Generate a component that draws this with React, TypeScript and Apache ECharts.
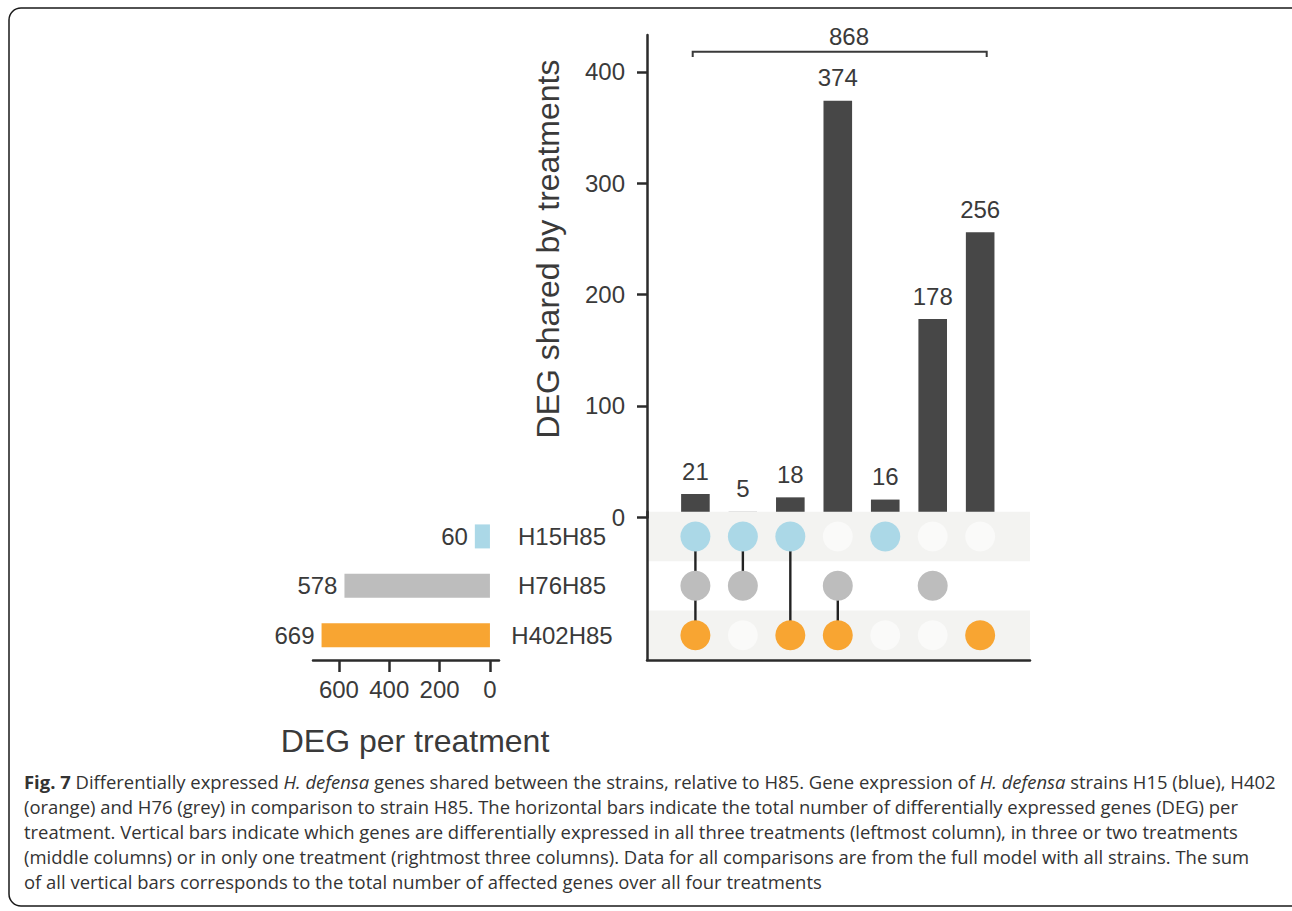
import React, { useEffect, useRef } from "react";
import * as echarts from "echarts";

// ---- data ----
const treatments = ["H15H85", "H76H85", "H402H85"];
const treatmentTotals = [60, 578, 669];
const treatmentColors = ["#abd8e7", "#bdbdbd", "#f8a532"];
// membership of each intersection column (indices into treatments)
const columnSets = [[0, 1, 2], [0, 1], [0, 2], [1, 2], [0], [1], [2]];
const columnCounts = [21, 5, 18, 374, 16, 178, 256];
const sharedTicks = [0, 100, 200, 300, 400];
const perTreatmentTicks = [0, 200, 400, 600];
const totalLabel = "868";
const yTitle = "DEG shared by treatments";
const xTitle = "DEG per treatment";
const captionLines = [
  "{b|Fig. 7} Differentially expressed {i|H. defensa} genes shared between the strains, relative to H85. Gene expression of {i|H. defensa} strains H15 (blue), H402",
  "(orange) and H76 (grey) in comparison to strain H85. The horizontal bars indicate the total number of differentially expressed genes (DEG) per",
  "treatment. Vertical bars indicate which genes are differentially expressed in all three treatments (leftmost column), in three or two treatments",
  "(middle columns) or in only one treatment (rightmost three columns). Data for all comparisons are from the full model with all strains. The sum",
  "of all vertical bars corresponds to the total number of affected genes over all four treatments",
];

const FONT = "'Liberation Sans', Arial, sans-serif";
const CAP_FONT = "'Open Sans', 'Noto Sans', sans-serif";
const CAP_SIZE = 18.45;
const TXT = "#3a3a3a";
const AX = "#2b2b2b";

export default function App() {
  const ref = useRef<HTMLDivElement>(null);
  useEffect(() => {
    const chart = echarts.init(ref.current!, null, { renderer: "svg" });

    const filled: any[] = [];
    const empty: any[] = [];
    columnSets.forEach((set, c) => {
      treatments.forEach((_, r) => {
        if (set.includes(r)) {
          filled.push({ value: [c, r], itemStyle: { color: treatmentColors[r] } });
        } else {
          empty.push([c, r]);
        }
      });
    });
    const connectors = columnSets
      .map((set, c) => [c, Math.min(...set), Math.max(...set)])
      .filter((d, i) => columnSets[i].length > 1);

    const matrixTop = 511.7;
    const matrixH = 148.3;
    const rowH = matrixH / 3;
    const bandRects = [0, 2].map((r) => ({
      type: "rect",
      z: 3,
      silent: true,
      shape: { x: 647, y: matrixTop + r * rowH, width: 383, height: rowH },
      style: { fill: "#f3f3f1" },
    }));

    const captionRich = {
      b: { fontWeight: "bold", fontFamily: CAP_FONT, fontSize: CAP_SIZE, fill: "#333" },
      i: { fontStyle: "italic", fontFamily: CAP_FONT, fontSize: CAP_SIZE, fill: "#333" },
    };

    chart.setOption({
      animation: false,
      backgroundColor: "#ffffff",
      grid: [
        { left: 647, top: 35, width: 383, height: 482.4 },
        { left: 647, top: matrixTop, width: 383, height: matrixH },
        { left: 313, top: matrixTop, width: 186, height: matrixH },
      ],
      xAxis: [
        { gridIndex: 0, type: "value", min: -1.02, max: 7.05, show: false },
        {
          gridIndex: 1, type: "value", min: -1.02, max: 7.05, z: 8,
          axisLine: { show: true, onZero: false, lineStyle: { color: AX, width: 2.5 } },
          axisTick: { show: false }, axisLabel: { show: false }, splitLine: { show: false },
        },
        {
          gridIndex: 2, type: "value", min: -36, max: 703, inverse: true,
          axisLine: { show: true, onZero: false, lineStyle: { color: AX, width: 2.5 } },
          axisTick: { show: true, length: 12, customValues: perTreatmentTicks, lineStyle: { color: AX, width: 2.5 } },
          axisLabel: { customValues: perTreatmentTicks, fontSize: 24, fontFamily: FONT, color: TXT, margin: 17 },
          splitLine: { show: false },
        },
      ],
      yAxis: [
        {
          gridIndex: 0, type: "value", min: 0, max: 433, z: 8,
          axisLine: { show: true, onZero: false, lineStyle: { color: AX, width: 2.5 } },
          axisTick: { show: true, length: 10, customValues: sharedTicks, lineStyle: { color: AX, width: 2.5 } },
          axisLabel: { customValues: sharedTicks, fontSize: 24, fontFamily: FONT, color: TXT, margin: 22 },
          splitLine: { show: false },
        },
        {
          gridIndex: 1, type: "category", data: treatments, inverse: true, z: 8,
          axisLine: { show: true, onZero: false, lineStyle: { color: AX, width: 2.5 } },
          axisTick: { show: false }, axisLabel: { show: false }, splitLine: { show: false },
        },
        {
          gridIndex: 2, type: "category", data: treatments, inverse: true, position: "right",
          axisLine: { show: false, onZero: false }, axisTick: { show: false },
          axisLabel: { fontSize: 24, fontFamily: FONT, color: TXT, align: "center", margin: 63 },
        },
      ],
      series: [
        {
          type: "bar", xAxisIndex: 0, yAxisIndex: 0, z: 2,
          data: columnCounts.map((v, i) => [i, v]),
          barWidth: 28.6,
          itemStyle: { color: "#474747" },
          label: {
            show: true, position: "top", distance: 11, fontSize: 24, fontFamily: FONT, color: TXT,
            formatter: (p: any) => String(p.value[1]),
          },
        },
        {
          type: "bar", xAxisIndex: 2, yAxisIndex: 2,
          data: treatmentTotals.map((v, i) => ({ value: v, itemStyle: { color: treatmentColors[i] } })),
          barWidth: 24,
          label: { show: true, position: "left", distance: 7, fontSize: 24, fontFamily: FONT, color: TXT },
        },
        {
          type: "scatter", xAxisIndex: 1, yAxisIndex: 1, z: 4,
          data: empty, symbolSize: 30,
          itemStyle: { color: "rgba(255,255,255,0.55)", opacity: 1 },
        },
        {
          type: "custom", xAxisIndex: 1, yAxisIndex: 1, z: 5,
          data: connectors,
          encode: { x: 0, y: [1, 2] },
          renderItem: (params: any, api: any) => {
            const x = api.value(0);
            const a = api.coord([x, api.value(1)]);
            const b = api.coord([x, api.value(2)]);
            return {
              type: "line",
              shape: { x1: a[0], y1: a[1], x2: b[0], y2: b[1] },
              style: { stroke: "#222222", lineWidth: 2.4 },
            };
          },
        },
        {
          type: "scatter", xAxisIndex: 1, yAxisIndex: 1, z: 6,
          data: filled, symbolSize: 30,
          itemStyle: { opacity: 1 },
        },
      ],
      graphic: [
        ...bandRects,
        {
          type: "polyline", z: 5,
          shape: { points: [[692.7, 57], [692.7, 51.7], [986.7, 51.7], [986.7, 57]] },
          style: { stroke: "#3a3a3a", lineWidth: 2, fill: null },
        },
        {
          type: "text", z: 5, x: 849, y: 36,
          style: { text: totalLabel, fontSize: 24, fontFamily: FONT, fill: TXT, textAlign: "center", textVerticalAlign: "middle" },
        },
        {
          type: "text", z: 5, x: 548, y: 249, rotation: Math.PI / 2,
          style: { text: yTitle, fontSize: 32, fontFamily: FONT, fill: TXT, textAlign: "center", textVerticalAlign: "middle" },
        },
        {
          type: "text", z: 5, x: 415, y: 741,
          style: { text: xTitle, fontSize: 32, fontFamily: FONT, fill: TXT, textAlign: "center", textVerticalAlign: "middle" },
        },
        ...captionLines.map((line, i) => ({
          type: "text", z: 5, x: 24, y: 781.7 + 25 * i,
          style: {
            text: line, fontSize: CAP_SIZE, fontFamily: CAP_FONT, fill: "#333",
            textAlign: "left", textVerticalAlign: "middle", rich: captionRich,
          },
        })),
        {
          type: "rect", z: 1,
          shape: { x: 9, y: 8, width: 1300, height: 898, r: 12 },
          style: { fill: null, stroke: "#1a1a1a", lineWidth: 1.5 },
        },
      ],
    });
    return () => chart.dispose();
  }, []);
  return (
    <div
      ref={ref}
      style={{ position: "fixed", left: 0, top: 0, width: 1292, height: 911 }}
    />
  );
}
